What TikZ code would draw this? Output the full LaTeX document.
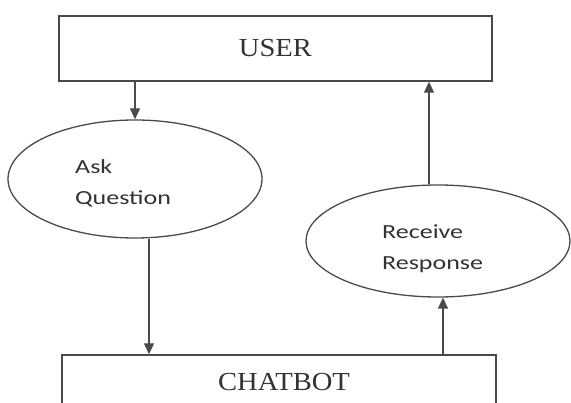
\documentclass[tikz,border=0pt]{standalone}
\usepackage{fontspec}
\usetikzlibrary{shapes.geometric,arrows.meta}
\newfontfamily\boxfont[FakeStretch=1.1]{Liberation Serif}
\newfontfamily\procfont[FakeStretch=1.3]{Carlito}
\definecolor{ink}{HTML}{4A4A4A}
\definecolor{txt}{HTML}{333333}
\tikzset{
  x=1pt,y=1pt,
  entity/.style={draw=ink,line width=1.4pt,rectangle,inner sep=0pt,
    font=\boxfont\fontsize{26}{30}\selectfont,text=txt},
  proc/.style={draw=ink,line width=1.3pt,ellipse,inner sep=0pt},
  proctext/.style={align=left,inner sep=0pt,text=txt,
    font=\procfont\fontsize{20}{31}\selectfont},
  arr/.style={draw=ink,line width=1.3pt,-{Triangle[width=10pt,length=11pt]}},
}
\begin{document}
\begin{tikzpicture}
\useasboundingbox (0,0) rectangle (571,-403);
\clip (0,0) rectangle (571,-403);
\fill[white] (0,0) rectangle (571,-403);
\node[entity,minimum width=433pt,minimum height=65pt] (user) at (275.5,-48.5) {USER};
\node[entity,minimum width=434pt,minimum height=55pt] (cb) at (279,-382.5) {\raisebox{-1pt}{\hspace*{10pt}CHATBOT}};
\node[proc,minimum width=254pt,minimum height=118pt] (aq) at (135,-179) {};
\node[proctext,anchor=north west] (aqt) at (75,-159) {Ask\\Question};
\node[proc,minimum width=264pt,minimum height=112pt] (rr) at (438,-241) {};
\node[proctext,anchor=north west] (rrt) at (382,-225) {Receive\\Response};
\draw[arr] (user.south -| aq.north) -- (aq.north);
\draw[arr] ([xshift=14pt]aq.south) -- ([xshift=14pt]aq.south |- cb.north);
\draw[arr] ([xshift=5pt]rr.south |- cb.north) -- ([xshift=5pt]rr.south);
\draw[arr] ([xshift=-9pt]rr.north) -- ([xshift=-9pt]rr.north |- user.south);
\end{tikzpicture}
\end{document}
